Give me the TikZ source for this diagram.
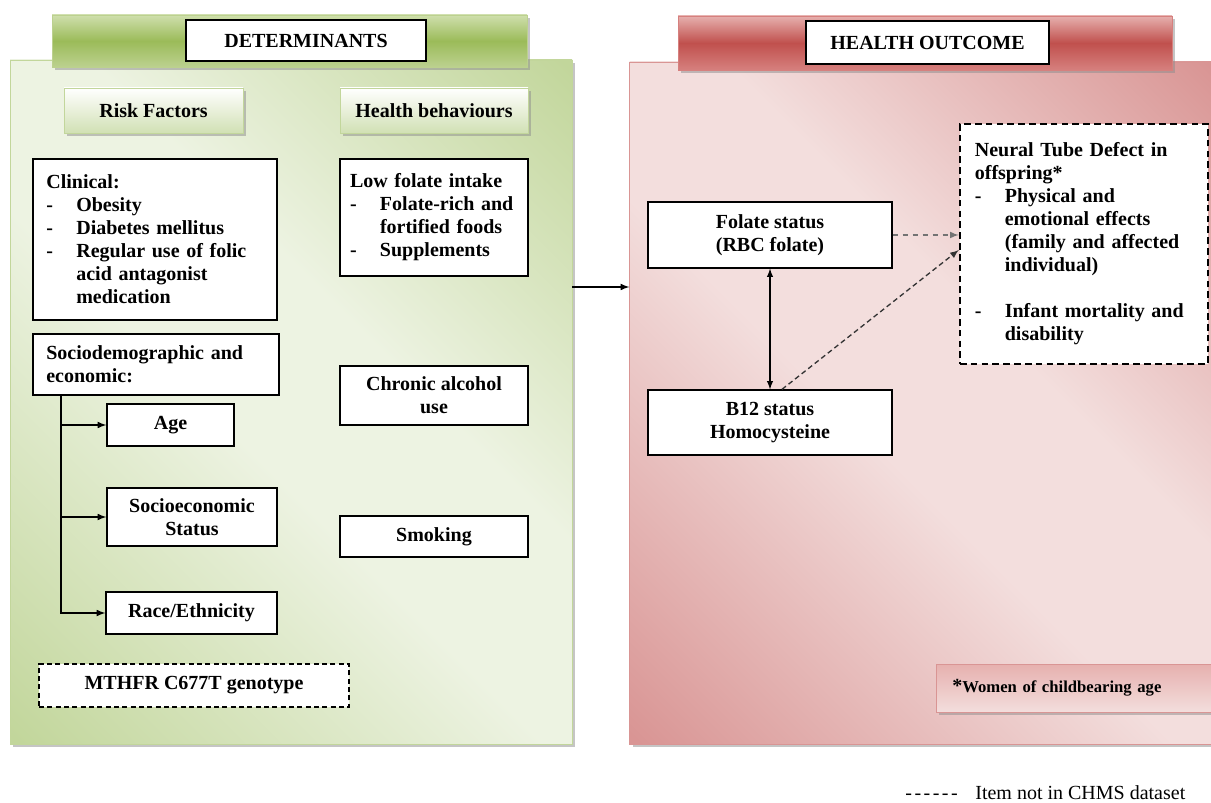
\documentclass[tikz,border=0pt]{standalone}
\usepackage{fontspec}
\setmainfont{Liberation Serif}
\usetikzlibrary{arrows,shadows}

\definecolor{gdark}{RGB}{194,214,155}
\definecolor{glight}{RGB}{237,243,226}
\definecolor{rdark}{RGB}{217,149,148}
\definecolor{rlight}{RGB}{243,222,221}
\definecolor{gbarhi}{RGB}{207,223,173}
\definecolor{gbarmid}{RGB}{155,187,89}
\definecolor{gbarlo}{RGB}{188,209,143}
\definecolor{rbarhi}{RGB}{230,176,174}
\definecolor{rbarmid}{RGB}{192,80,77}
\definecolor{rbarlo}{RGB}{214,128,126}

\pgfdeclarehorizontalshading{detshade}{100bp}{color(0bp)=(gdark); color(15bp)=(gdark); color(45bp)=(glight); color(58bp)=(glight); color(85bp)=(gdark); color(100bp)=(gdark)}
\pgfdeclarehorizontalshading{outshade}{100bp}{color(0bp)=(rdark); color(15bp)=(rdark); color(45bp)=(rlight); color(58bp)=(rlight); color(85bp)=(rdark); color(100bp)=(rdark)}
\pgfdeclareverticalshading{detbarshade}{100bp}{color(0bp)=(gbarlo); color(25bp)=(gbarlo); color(50bp)=(gbarmid); color(75bp)=(gbarhi); color(100bp)=(gbarhi)}
\pgfdeclareverticalshading{outbarshade}{100bp}{color(0bp)=(rbarlo); color(25bp)=(rbarlo); color(50bp)=(rbarmid); color(75bp)=(rbarhi); color(100bp)=(rbarhi)}

\newcommand{\dashitem}{\makebox[18pt][l]{-}}
\newcommand{\contitem}{\hspace*{18pt}}

\begin{document}
\begin{tikzpicture}[x=0.6pt,y=-0.6pt,>=latex,
  txt/.style={font=\fontsize{12pt}{13.8pt}\selectfont\bfseries},
  box/.style={txt,draw,fill=white,line width=0.8pt},
  cbox/.style={box,align=center},
  lbox/.style={box,align=left,inner xsep=8pt},
  shadowed/.style={drop shadow={shadow xshift=1.8pt,shadow yshift=-1.8pt,fill=black!45,opacity=0.5}},
  panel/.style={shade,shading angle=45,line width=0.4pt,shadowed},
  bar/.style={shade,line width=0.4pt,shadowed},
  subhead/.style={txt,draw=gdark,top color=white,bottom color=gdark!75!white,minimum height=27pt,shadowed},
  conn/.style={->,line width=0.8pt}]
\useasboundingbox (0,0) rectangle (1211,803);

% panels and headers
\node[panel,shading=detshade,draw=gdark,minimum width=337.2pt,minimum height=410.4pt] (detpanel) at (291,402) {};
\node[panel,shading=outshade,draw=rdark,minimum width=352pt,minimum height=409.2pt] (outpanel) at (923,403) {};
\node[bar,shading=detbarshade,draw=gbarlo,minimum width=285pt,minimum height=31.2pt] (detbar) at (289.5,41) {};
\node[bar,shading=outbarshade,draw=rbarlo,minimum width=296.4pt,minimum height=32.4pt] (outbar) at (925,43) {};
\node[cbox,minimum width=144pt,minimum height=24.6pt] (dethead) at (306,40.5) {DETERMINANTS};
\node[cbox,minimum width=145.8pt,minimum height=25.8pt] (outhead) at (927.5,42.5) {HEALTH OUTCOME};

% determinants
\node[subhead,minimum width=107.4pt] (risk) at (153.5,110.5) {Risk Factors};
\node[subhead,minimum width=112.8pt] (behav) at (434,110.5) {Health behaviours};

\node[lbox,text width=130.4pt,minimum height=96.6pt] (clinical) at (155,239.5)
  {Clinical:\\ \dashitem Obesity\\ \dashitem Diabetes mellitus\\ \dashitem Regular use of folic\\ \contitem acid antagonist\\ \contitem medication};
\node[lbox,inner xsep=6pt,text width=100.8pt,minimum height=70.2pt] (folint) at (434,217.5)
  {Low folate intake\\ \dashitem Folate-rich and\\ \contitem fortified foods\\ \dashitem Supplements};
\node[lbox,text width=131.6pt,minimum height=36.6pt] (socio) at (156,364.5) {Sociodemographic and\\ economic:};

\node[cbox,minimum width=76.2pt,minimum height=25.2pt] (age) at (170.5,425) {Age};
\node[cbox,minimum width=102pt,minimum height=34.8pt] (ses) at (192,517) {Socioeconomic\\ Status};
\node[cbox,minimum width=102.6pt,minimum height=25.2pt] (race) at (191.5,613) {Race/Ethnicity};
\node[cbox,minimum width=112.8pt,minimum height=35.4pt] (alcohol) at (434,395.5) {Chronic alcohol\\ use};
\node[cbox,minimum width=112.8pt,minimum height=24.6pt] (smoking) at (434,536.5) {Smoking};
\node[cbox,dash pattern=on 3pt off 2pt,minimum width=186pt,minimum height=25.8pt] (mthfr) at (194,685.5) {MTHFR C677T genotype};

\coordinate (trunk) at (61,395);
\draw[conn] (trunk) |- (race);
\draw[conn] (trunk |- age) -- (age);
\draw[conn] (trunk |- ses) -- (ses);

% health outcome
\node[cbox,minimum width=146.4pt,minimum height=39.6pt] (folate) at (770,235) {Folate status\\ (RBC folate)};
\node[cbox,minimum width=146.4pt,minimum height=39pt] (b12) at (770,422.5) {B12 status\\ Homocysteine};
\node[lbox,line width=1.3pt,dash pattern=on 4pt off 2.5pt,inner xsep=9pt,text width=131pt,minimum height=144pt] (ntd) at (1084,244)
  {Neural Tube Defect in\\ offspring*\\ \dashitem Physical and\\ \contitem emotional effects\\ \contitem (family and affected\\ \contitem individual)\\[13.8pt] \dashitem Infant mortality and\\ \contitem disability};
\node[txt,font=\fontsize{10pt}{12pt}\selectfont\bfseries,draw=rdark,top color=rbarhi,bottom color=rlight,shadowed,
  anchor=west,align=left,inner xsep=9.6pt,text width=146pt,minimum height=28.8pt] (women) at (936,688)
  {{\fontsize{12pt}{12pt}\selectfont*}Women of childbearing age};

\draw[conn] (detpanel.east |- 0,287) -- (outpanel.west |- 0,287);
\draw[<->,line width=0.7pt] (folate) -- (b12);
\draw[conn,dashed,black!55] (folate) -- (folate -| ntd.west);
\draw[conn,densely dashed,black!80] (b12.north -| 782,0) -- (ntd.west |- 0,250);

% legend
\node[font=\fontsize{12pt}{13.8pt}\selectfont,anchor=base west,inner sep=0pt] (legdash) at (905,799) {-\kern1.5pt-\kern1.5pt-\kern1.5pt-\kern1.5pt-\kern1.5pt-};
\node[font=\fontsize{12pt}{13.8pt}\selectfont,anchor=base west,inner sep=0pt] (legitem) at (975,799) {Item not in CHMS dataset};
\end{tikzpicture}
\end{document}
